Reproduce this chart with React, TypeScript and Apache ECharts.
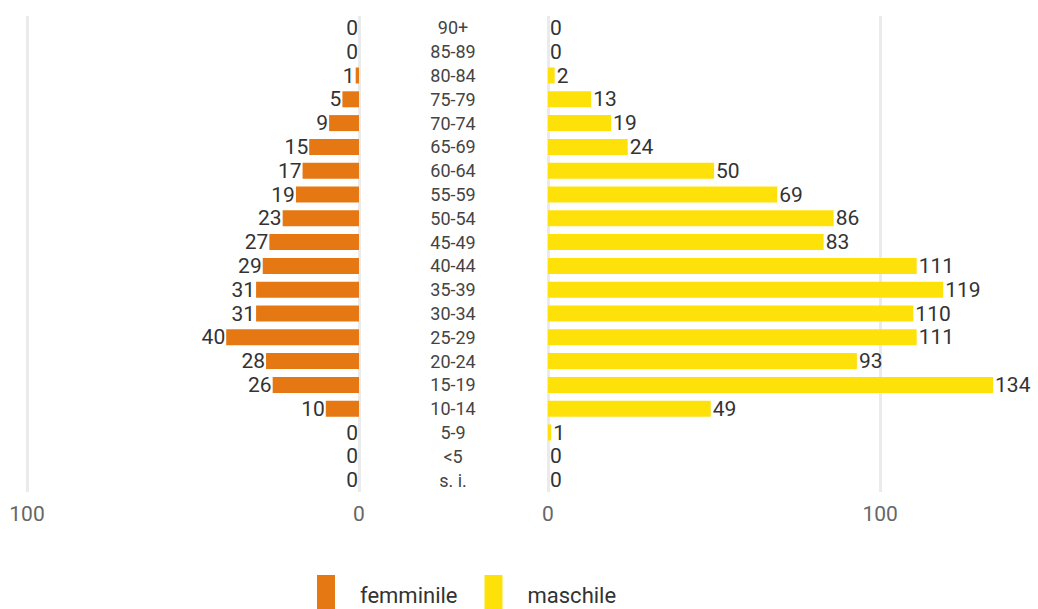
import React, { useEffect, useRef } from "react";
import * as echarts from "echarts";

const categories = ["90+", "85-89", "80-84", "75-79", "70-74", "65-69", "60-64", "55-59", "50-54", "45-49", "40-44", "35-39", "30-34", "25-29", "20-24", "15-19", "10-14", "5-9", "<5", "s. i."];
const femminile = [0, 0, 1, 5, 9, 15, 17, 19, 23, 27, 29, 31, 31, 40, 28, 26, 10, 0, 0, 0];
const maschile = [0, 0, 2, 13, 19, 24, 50, 69, 86, 83, 111, 119, 110, 111, 93, 134, 49, 1, 0, 0];
const leftMax = 100;
const rightMax = 140;
const tickStep = 100;

const ORANGE = "#e57812";
const YELLOW = "#ffe10a";
const GRID = "#ebebeb";
const FONT = "Roboto";

export default function App() {
  const ref = useRef<HTMLDivElement>(null);
  useEffect(() => {
    if (!ref.current) return;
    const chart = echarts.init(ref.current, undefined, { renderer: "svg" });
    const valueLabel = { fontFamily: FONT, fontSize: 21, color: "#333" };
    const axisLabel = { fontFamily: FONT, fontSize: 21, color: "#666", margin: 11 };
    chart.setOption({
      animation: false,
      textStyle: { fontFamily: FONT },
      grid: [
        { left: 27, right: 679, top: 16, bottom: 117 },
        { left: 548, right: 25, top: 16, bottom: 117 },
      ],
      legend: {
        data: ["femminile", "maschile"],
        left: 317,
        top: 575,
        padding: 0,
        icon: "rect",
        itemWidth: 18,
        itemHeight: 40,
        itemGap: 27,
        textStyle: { fontFamily: FONT, fontSize: 22, color: "#333", padding: [0, 0, 0, 20] },
      },
      xAxis: [
        {
          gridIndex: 0,
          type: "value",
          inverse: true,
          min: 0,
          max: leftMax,
          interval: tickStep,
          axisLine: { show: false },
          axisTick: { show: false },
          axisLabel,
          splitLine: { show: true, lineStyle: { color: GRID, width: 3 } },
        },
        {
          gridIndex: 1,
          type: "value",
          min: 0,
          max: rightMax,
          interval: tickStep,
          axisLine: { show: false },
          axisTick: { show: false },
          axisLabel: {
            ...axisLabel,
            formatter: (v: number) => (v % tickStep === 0 ? String(v) : ""),
          },
          splitLine: { show: true, lineStyle: { color: [GRID, GRID, "rgba(0,0,0,0)"], width: 3 } },
        },
      ],
      yAxis: [
        {
          gridIndex: 0,
          type: "category",
          inverse: true,
          position: "right",
          data: categories,
          axisLine: { show: false },
          axisTick: { show: false },
          axisLabel: {
            fontFamily: FONT,
            fontSize: 18,
            color: "#444",
            margin: 94,
            align: "center",
            interval: 0,
            hideOverlap: false,
          },
        },
        {
          gridIndex: 1,
          type: "category",
          inverse: true,
          data: categories,
          axisLine: { show: false },
          axisTick: { show: false },
          axisLabel: { show: false },
        },
      ],
      series: [
        {
          name: "femminile",
          type: "bar",
          xAxisIndex: 0,
          yAxisIndex: 0,
          data: femminile,
          barWidth: 16,
          itemStyle: { color: ORANGE },
          label: { show: true, position: "left", distance: 1, ...valueLabel },
        },
        {
          name: "maschile",
          type: "bar",
          xAxisIndex: 1,
          yAxisIndex: 1,
          data: maschile,
          barWidth: 16,
          itemStyle: { color: YELLOW },
          label: { show: true, position: "right", distance: 2, ...valueLabel },
        },
      ],
    });
    return () => chart.dispose();
  }, []);
  return (
    <div
      ref={ref}
      style={{ position: "fixed", left: 0, top: 0, width: 1038, height: 609, background: "#fff" }}
    />
  );
}
